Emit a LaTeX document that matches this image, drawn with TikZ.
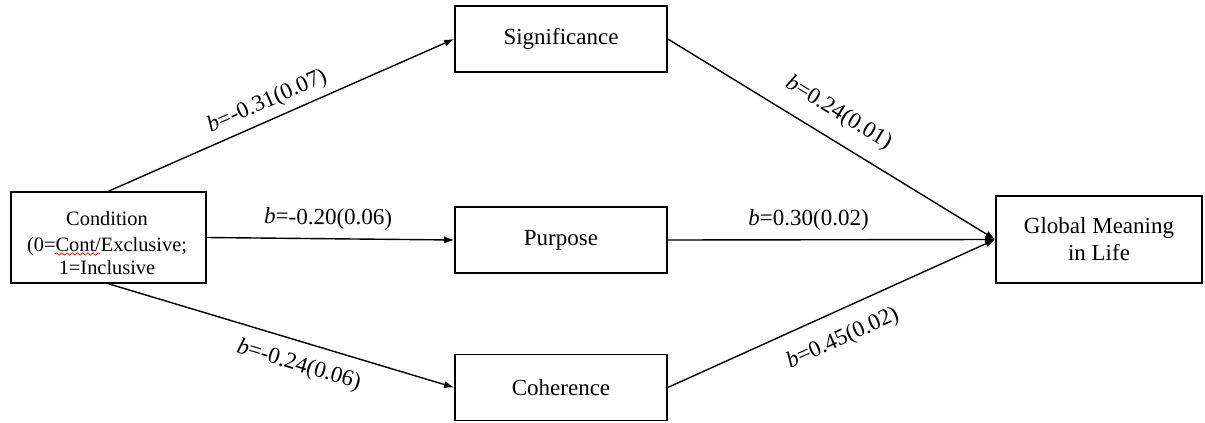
\documentclass[tikz,border=0pt]{standalone}
\usepackage{fontspec}
\setmainfont{Liberation Serif}
\usepackage{tikz}
\usetikzlibrary{positioning,arrows.meta,decorations.pathmorphing}

\begin{document}
\begin{tikzpicture}[x=0.5pt,y=-0.5pt]

\useasboundingbox (0,0) rectangle (1205,423);

\tikzstyle{varbox} = [draw, line width=0.8pt, rectangle, minimum width=106pt, minimum height=33pt, inner sep=0pt, font=\fontsize{11.5}{13.5}\selectfont, align=center]
\tikzstyle{effect} = [line width=0.7pt, -{Latex[length=5pt,width=3.6pt]}]
\tikzstyle{coef} = [font=\fontsize{11.5}{13.5}\selectfont, sloped]
\tikzstyle{spellmark} = [red, line width=0.35pt, decorate, decoration={snake, amplitude=0.6pt, segment length=2.6pt}]

% predictor, mediators, outcome
\node (cond) [varbox, minimum width=97.5pt, minimum height=45.5pt] at (108.5,237.5) {};
\node (condtext) [align=center, inner sep=0pt, font=\fontsize{10.2}{11.5}\selectfont] at (107,243) {Condition\\[1.5pt](0=Cont/Exclusive;\\1=Inclusive};
\node (sig) [varbox] at (561,39) {Significance};
\node (pur) [varbox] at (561,240) {Purpose};
\node (coh) [varbox] at (561,387.5) {Coherence};
\node (glob) [varbox, minimum width=103pt, minimum height=43.5pt] at (1099,239.5) {Global Meaning\\in Life};

% spell-check squiggle under "Cont"
\coordinate (w1) at (55,254);
\coordinate (w2) at (100,254);
\draw[spellmark] (w1) -- (w2);

% a paths
\draw[effect] (cond.north) -- (sig.west) node [coef, pos=0.48, above] {\textit{b}=-0.31(0.07)};
\draw[effect] (cond.east) -- (pur.west) node [coef, pos=0.49, above=1pt] {\textit{b}=-0.20(0.06)};
\draw[effect] (cond.south) -- (coh.west) node [coef, pos=0.57, below=3pt] {\textit{b}=-0.24(0.06)};

% b paths
\draw[effect] (sig.east) -- (glob.west) node [coef, pos=0.48, above=4pt] {\textit{b}=0.24(0.01)};
\draw[effect] (pur.east) -- (glob.west) node [coef, pos=0.43, above=1pt] {\textit{b}=0.30(0.02)};
\draw[effect] (coh.east) -- (glob.west) node [coef, pos=0.5, below=5pt] {\textit{b}=0.45(0.02)};

\end{tikzpicture}
\end{document}
